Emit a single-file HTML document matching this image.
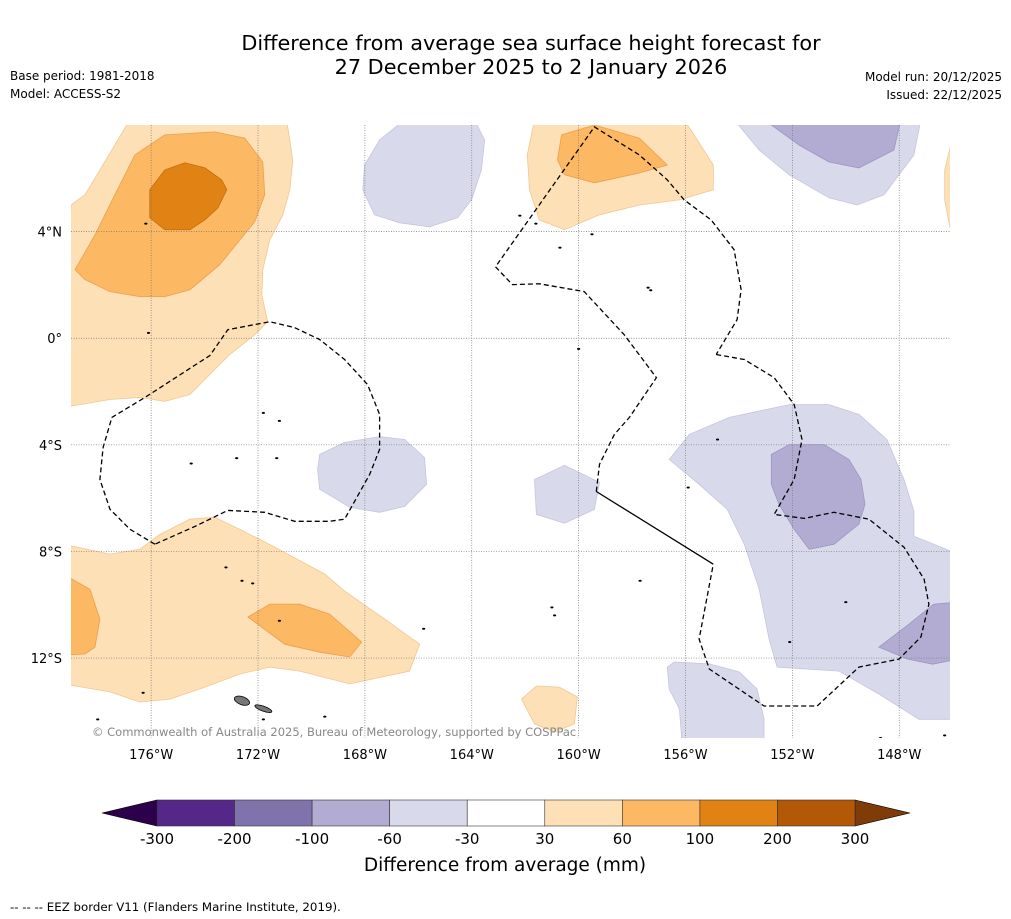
<!DOCTYPE html>
<html><head><meta charset="utf-8">
<style>
body{margin:0;background:#fff;width:1011px;height:919px;overflow:hidden;font-family:"DejaVu Sans","Liberation Sans",sans-serif;}
svg{position:absolute;left:0;top:0}
</style></head>
<body>
<svg id="chart" width="1011" height="919">
<text x="531" y="50" text-anchor="middle" font-size="20.8">Difference from average sea surface height forecast for</text>
<text x="531" y="74" text-anchor="middle" font-size="20.8">27 December 2025 to 2 January 2026</text>
<text x="10" y="80" font-size="12">Base period: 1981-2018</text>
<text x="10" y="98" font-size="12">Model: ACCESS-S2</text>
<text x="1002" y="81" font-size="12" text-anchor="end">Model run: 20/12/2025</text>
<text x="1002" y="99" font-size="12" text-anchor="end">Issued: 22/12/2025</text>
<defs><clipPath id="mapclip"><rect x="71" y="125" width="879" height="613"/></clipPath></defs>
<g id="map" clip-path="url(#mapclip)"></g>
<g id="axes"></g>
<text x="92" y="736" font-size="11.5" fill="#888">© Commonwealth of Australia 2025, Bureau of Meteorology, supported by COSPPac</text>
<g id="cbar"></g>
<text x="505" y="871" text-anchor="middle" font-size="18.5">Difference from average (mm)</text>
<text x="10" y="911" font-size="11.8">-- -- -- EEZ border V11 (Flanders Marine Institute, 2019).</text>
</svg>
<script>
const lonTicks=[-176,-172,-168,-164,-160,-156,-152,-148];
const latTicks=[4,0,-4,-8,-12];
const cbLabels=["-300","-200","-100","-60","-30","30","60","100","200","300"];
const cbColors=["#542788","#8073ac","#b2abd2","#d8daeb","#ffffff","#fee0b6","#fdb863","#e08214","#b35806"];
const cbEnds=["#2d004b","#7f3b08"];
const LT="#fee0b6",MO="#fdb863",DO="#e08214",LP="#d8daeb",MP="#b2abd2";
const contours=[
{c:LT,p:[[-179,5],[-178.48,5.38],[-177.92,6.31],[-177.36,7.25],[-176.79,8.2],[-170.93,8.2],[-170.7,6.69],[-170.81,5.57],[-171.07,4.63],[-171.56,3.69],[-171.82,2.57],[-171.86,1.63],[-171.64,0.62],[-172.12,0.13],[-173.06,-0.61],[-174.55,-2.11],[-175.49,-2.37],[-176.42,-2.22],[-177.54,-2.3],[-179.3,-2.6]]},
{c:MO,p:[[-178.85,2.57],[-178.1,3.88],[-177.36,5.38],[-176.61,6.88],[-175.49,7.63],[-173.62,7.74],[-172.5,7.51],[-171.82,6.61],[-171.75,5.38],[-172.12,4.37],[-172.68,3.69],[-173.43,2.76],[-174.55,1.82],[-175.49,1.56],[-176.42,1.56],[-177.54,1.75],[-178.48,2.2]]},
{c:DO,p:[[-176.05,5.57],[-175.49,6.31],[-174.74,6.58],[-173.99,6.39],[-173.36,5.94],[-173.17,5.57],[-173.5,4.89],[-173.99,4.44],[-174.55,4.07],[-175.49,4.07],[-176.05,4.52]]},
{c:LP,p:[[-168.01,6.5],[-167.45,7.44],[-166.51,8.2],[-163.9,8.2],[-163.52,7.44],[-163.64,6.31],[-164.01,5.19],[-164.53,4.52],[-165.58,4.18],[-166.7,4.33],[-167.64,4.63],[-168.08,5.57]]},
{c:LT,p:[[-161.65,8.2],[-156.05,8.2],[-154.96,6.5],[-154.96,5.57],[-156.23,5.19],[-157.73,5.0],[-159.22,4.63],[-160.53,4.07],[-161.47,4.44],[-161.84,5.57],[-161.92,6.88]]},
{c:MO,p:[[-160.64,7.63],[-159.41,8],[-157.73,7.51],[-156.68,6.5],[-157.73,6.2],[-159.41,5.83],[-160.53,6.13],[-160.79,6.69]]},
{c:LP,p:[[-154.18,8.2],[-147.19,8.2],[-147.45,6.88],[-148.57,5.38],[-149.58,5.0],[-150.63,5.27],[-152.12,6.13],[-153.24,7.06]]},
{c:MP,p:[[-153.06,8.2],[-147.94,8.2],[-148.2,7.06],[-149.51,6.39],[-150.63,6.61],[-151.75,7.25]]},
{c:LT,p:[[-145.8,7.3],[-146.1,7.14],[-146.3,6.31],[-146.3,5.19],[-146.1,4.14],[-145.8,4]]},
{c:LP,p:[[-169.69,-4.36],[-168.76,-3.91],[-167.45,-3.69],[-166.51,-3.8],[-165.77,-4.47],[-165.69,-5.48],[-166.51,-6.31],[-167.45,-6.53],[-168.57,-6.34],[-169.69,-5.67],[-169.77,-4.92]]},
{c:LP,p:[[-161.65,-5.3],[-160.53,-4.77],[-159.22,-5.41],[-159.41,-6.42],[-160.53,-6.94],[-161.58,-6.61]]},
{c:LP,p:[[-156.61,-4.55],[-155.86,-3.61],[-154.36,-2.97],[-152.12,-2.49],[-150.63,-2.49],[-149.51,-2.86],[-148.46,-3.8],[-147.82,-5.3],[-147.45,-6.49],[-147.45,-7.43],[-145.8,-8.1],[-145.8,-14.3],[-147.26,-14.3],[-148.76,-13.35],[-150.25,-12.49],[-152.57,-12.34],[-152.87,-11.29],[-153.24,-9.42],[-153.8,-7.73],[-154.44,-6.42],[-155.49,-5.48]]},
{c:MP,p:[[-152.79,-4.36],[-152.12,-3.99],[-150.81,-3.99],[-149.88,-4.55],[-149.43,-5.3],[-149.28,-6.23],[-149.51,-6.98],[-150.44,-7.73],[-151.37,-7.92],[-151.93,-7.17],[-152.5,-6.23],[-152.79,-5.48]]},
{c:MP,p:[[-148.76,-11.59],[-147.64,-10.73],[-146.71,-9.98],[-145.8,-9.9],[-145.8,-12.04],[-146.75,-12.23],[-147.68,-12.04]]},
{c:LP,p:[[-156.68,-12.34],[-156.42,-12.15],[-155.11,-12.22],[-153.99,-12.52],[-153.32,-13.16],[-153.06,-14.28],[-153.06,-15.3],[-156.12,-15.3],[-156.23,-13.91],[-156.61,-13.16]]},
{c:LT,p:[[-179.3,-7.73],[-177.54,-8.1],[-176.42,-7.92],[-175.67,-7.36],[-174.55,-6.79],[-173.62,-6.72],[-172.68,-7.17],[-171.37,-7.84],[-169.5,-8.85],[-168.76,-9.49],[-167.26,-10.54],[-165.95,-11.48],[-166.33,-12.49],[-168.57,-12.97],[-170.44,-12.49],[-171.56,-12.34],[-172.68,-12.6],[-173.99,-13.09],[-175.3,-13.54],[-176.42,-13.65],[-177.54,-13.27],[-179.3,-12.97]]},
{c:MO,p:[[-179.3,-8.85],[-178.29,-9.42],[-177.92,-10.54],[-178.1,-11.59],[-178.48,-11.85],[-179.3,-11.89]]},
{c:MO,p:[[-172.38,-10.46],[-171.56,-9.98],[-170.44,-9.98],[-169.32,-10.35],[-168.12,-11.4],[-168.57,-11.96],[-169.69,-11.78],[-171.0,-11.48]]},
{c:LT,p:[[-162.14,-13.54],[-161.58,-13.05],[-160.72,-13.09],[-160.05,-13.46],[-160.16,-14.47],[-160.9,-14.77],[-161.65,-14.47]]}
];
const eezLeft=[[-175.86,-7.73],[-176.79,-7.17],[-177.54,-6.42],[-177.92,-5.3],[-177.8,-4.1],[-177.47,-2.97],[-176.23,-2.22],[-173.8,-0.65],[-173.13,0.32],[-171.56,0.62],[-170.63,0.4],[-169.69,-0.05],[-168.76,-0.8],[-167.9,-1.74],[-167.45,-2.86],[-167.45,-4.17],[-167.82,-5.11],[-168.76,-6.79],[-169.32,-6.87],[-170.63,-6.87],[-171.75,-6.53],[-173.13,-6.46],[-174.36,-7.06],[-175.86,-7.73]];
const eezMid=[[-159.34,-5.75],[-159.22,-4.73],[-158.66,-3.61],[-158.1,-2.97],[-157.09,-1.48],[-158.29,0.13],[-159.79,1.75],[-161.47,2.04],[-162.48,2.01],[-163.11,2.68],[-159.41,7.93],[-157.73,6.88],[-156.68,5.94],[-156.05,5.19],[-155.04,4.44],[-154.18,3.32],[-153.92,1.82],[-154.07,0.7],[-154.85,-0.61]];
const eezRight=[[-154.85,-0.61],[-153.8,-0.8],[-152.68,-1.48],[-151.93,-2.49],[-151.64,-3.8],[-151.93,-5.3],[-152.68,-6.61],[-151.56,-6.76],[-150.44,-6.53],[-149.13,-6.79],[-147.82,-7.84],[-147.07,-9.04],[-146.89,-9.98],[-147.19,-11.21],[-148.01,-12.04],[-149.51,-12.34],[-151.07,-13.8],[-153.06,-13.8],[-155.11,-12.41],[-155.49,-11.29],[-154.96,-8.48]];
const eezSolid=[[-159.34,-5.75],[-154.96,-8.48]];
const islands=[[-176.2,4.3],[-176.1,0.2],[-174.5,-4.7],[-172.8,-4.5],[-171.8,-2.8],[-171.2,-3.1],[-171.3,-4.5],[-162.2,4.6],[-161.6,4.3],[-160.7,3.4],[-159.5,3.9],[-157.4,1.9],[-157.3,1.8],[-160.0,-0.4],[-155.9,-5.6],[-154.8,-3.8],[-157.7,-9.1],[-161.0,-10.1],[-160.9,-10.4],[-173.2,-8.6],[-172.6,-9.1],[-172.2,-9.2],[-171.2,-10.6],[-165.8,-10.9],[-176.3,-13.3],[-178.0,-14.3],[-171.8,-14.3],[-169.5,-14.2],[-150.0,-9.9],[-152.1,-11.4],[-148.7,-15.0],[-147.8,-15.1],[-146.3,-14.9]];
const samoa=[[-172.6,-13.6],[-171.8,-13.9]];

const X0=71,X1=950,Y0=125,Y1=738,LON0=-179,LON1=-146.1,LAT0=8,LAT1=-15;
const xs=l=>X0+(l-LON0)/(LON1-LON0)*(X1-X0);
const ys=l=>Y0+(LAT0-l)/(LAT0-LAT1)*(Y1-Y0);
const NS="http://www.w3.org/2000/svg";
function mk(t,a,p){const e=document.createElementNS(NS,t);for(const k in a)e.setAttribute(k,a[k]);p.appendChild(e);return e;}
const pts=arr=>arr.map(q=>xs(q[0]).toFixed(1)+","+ys(q[1]).toFixed(1)).join(" ");
const map=document.getElementById("map"),axes=document.getElementById("axes");
const stroke={[LT]:"#f0c890",[MO]:"#e8a050",[DO]:"#c07010",[LP]:"#c4c6dc",[MP]:"#9d96c2"};
contours.forEach((ct,i)=>{
 const e=mk("polygon",{points:pts(ct.p),fill:ct.c,stroke:stroke[ct.c],"stroke-width":0.8},map);
 
 
});
lonTicks.forEach(l=>{
 const g=mk("line",{x1:xs(l),x2:xs(l),y1:Y0,y2:Y1,stroke:"#777","stroke-width":0.7,"stroke-dasharray":"1,1.5"},map);
 
 
 const t=mk("text",{x:xs(l),y:759,"text-anchor":"middle","font-size":13},axes);
 
 
 t.textContent=Math.abs(l)+"°W";
});
latTicks.forEach(l=>{
 const g=mk("line",{x1:X0,x2:X1,y1:ys(l),y2:ys(l),stroke:"#777","stroke-width":0.7,"stroke-dasharray":"1,1.5"},map);
 
 
 const t=mk("text",{x:62,y:ys(l)+5,"text-anchor":"end","font-size":13},axes);
 
 
 t.textContent=l===0?"0°":Math.abs(l)+"°"+(l>0?"N":"S");
});
[eezLeft,eezMid,eezRight].forEach(a=>{
 const e=mk("polyline",{points:pts(a),fill:"none",stroke:"#000","stroke-width":1.3,"stroke-dasharray":"5,3"},map);
 
 
});
const sl=mk("polyline",{points:pts(eezSolid),fill:"none",stroke:"#000","stroke-width":1.3},map);


islands.forEach(q=>{
 const e=mk("ellipse",{cx:xs(q[0]),cy:ys(q[1]),rx:1.6,ry:1,fill:"#000"},map);
 
 
});
samoa.forEach((q,i)=>{
 const e=mk("ellipse",{cx:xs(q[0]),cy:ys(q[1]),rx:i?9:8,ry:i?2.5:4,fill:"#777",stroke:"#000","stroke-width":0.8,transform:`rotate(20 ${xs(q[0])} ${ys(q[1])})`},map);
 
 
});
const cb=document.getElementById("cbar");
const CB0=157,CB1=855,CBY=800,CBH=26,w=(CB1-CB0)/cbColors.length;
let lt=mk("polygon",{points:`${CB0},${CBY} ${CB0},${CBY+CBH} 102,${CBY+CBH/2}`,fill:cbEnds[0],stroke:"#000","stroke-width":0.6},cb);


let rt=mk("polygon",{points:`${CB1},${CBY} ${CB1},${CBY+CBH} 910,${CBY+CBH/2}`,fill:cbEnds[1],stroke:"#000","stroke-width":0.6},cb);


cbColors.forEach((c,i)=>{
 const r=mk("rect",{x:CB0+i*w,y:CBY,width:w,height:CBH,fill:c,stroke:"#333","stroke-width":0.6},cb);
 
 
});
cbLabels.forEach((s,i)=>{
 const t=mk("text",{x:CB0+i*w,y:844,"text-anchor":"middle","font-size":15},cb);
 
 
 t.textContent=s;
});
</script>
</body></html>
